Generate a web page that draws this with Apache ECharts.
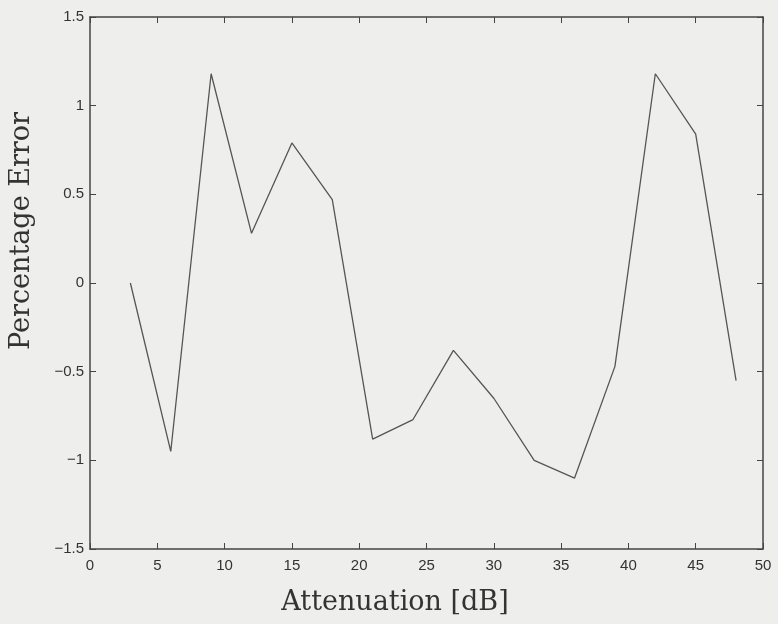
<!DOCTYPE html>
<html>
<head>
<meta charset="utf-8">
<title>Percentage Error vs Attenuation</title>
<script src="https://cdn.jsdelivr.net/npm/echarts@6/dist/echarts.min.js"></script>
<style>
  html, body { margin: 0; padding: 0; background: #eeeeec; }
  #chart { width: 778px; height: 624px; }
</style>
</head>
<body>
<div id="chart"></div>
<script>
// attenuation in dB (x) and the percentage error (y)
var attenuation = [3, 6, 9, 12, 15, 18, 21, 24, 27, 30, 33, 36, 39, 42, 45, 48];
var pctError = [0, -0.95, 1.18, 0.28, 0.79, 0.47, -0.88, -0.77, -0.38, -0.65, -1.0, -1.1, -0.47, 1.18, 0.84, -0.55];

var xTicks = [0, 5, 10, 15, 20, 25, 30, 35, 40, 45, 50];
var yTicks = [-1.5, -1, -0.5, 0, 0.5, 1, 1.5];

var points = attenuation.map(function (x, i) { return [x, pctError[i]]; });

var axisColor = '#444';
var titleFont = 'DejaVu Serif';
var tickFont = { fontFamily: 'Liberation Sans', fontSize: 15, color: '#333' };

// matlab style minus sign
function fmt(v) { return String(v).replace('-', '\u2212'); }

function boxAxis(extra) {
    return Object.assign({
        type: 'value',
        axisLine: { show: true, onZero: false, lineStyle: { color: axisColor, width: 1.5 } },
        axisTick: { inside: true, length: 6, lineStyle: { color: axisColor } },
        splitLine: { show: false }
    }, extra);
}

var myChart = echarts.init(document.getElementById('chart'));

var option = {
    backgroundColor: '#eeeeec',
    animation: false,
    grid: { left: 90, right: 15, top: 17, bottom: 75 },
    xAxis: [
        boxAxis({
            min: xTicks[0], max: xTicks[xTicks.length - 1], interval: 5,
            axisLabel: Object.assign({ margin: 9, formatter: fmt }, tickFont)
        }),
        boxAxis({
            position: 'top',
            min: xTicks[0], max: xTicks[xTicks.length - 1], interval: 5,
            axisLabel: { show: false }
        })
    ],
    yAxis: [
        boxAxis({
            min: yTicks[0], max: yTicks[yTicks.length - 1], interval: 0.5,
            axisLabel: Object.assign({ margin: 6, formatter: fmt }, tickFont)
        }),
        boxAxis({
            position: 'right',
            min: yTicks[0], max: yTicks[yTicks.length - 1], interval: 0.5,
            axisLabel: { show: false }
        })
    ],
    graphic: [{
        type: 'text',
        x: 395, y: 603,
        style: {
            text: 'Attenuation [dB]',
            font: '27px "' + titleFont + '"',
            fill: '#333',
            textAlign: 'center',
            textVerticalAlign: 'middle'
        }
    }, {
        type: 'text',
        x: 22, y: 231,
        rotation: Math.PI / 2,
        style: {
            text: 'Percentage Error',
            font: '27px "' + titleFont + '"',
            fill: '#333',
            textAlign: 'center',
            textVerticalAlign: 'middle'
        }
    }],
    series: [{
        type: 'line',
        data: points,
        showSymbol: false,
        lineStyle: { color: '#555', width: 1.3 }
    }]
};

myChart.setOption(option);
</script>
</body>
</html>
